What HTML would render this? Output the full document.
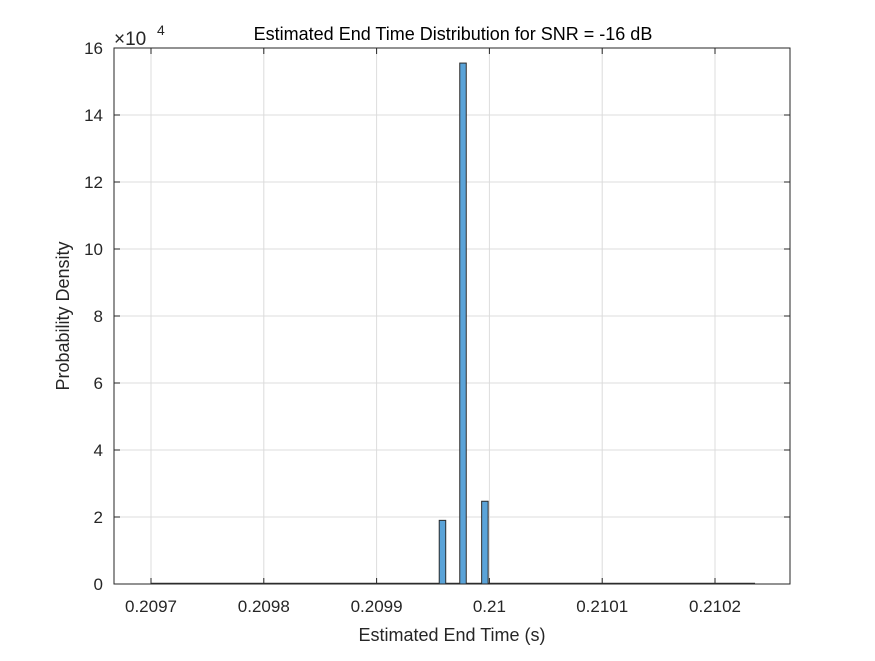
<!DOCTYPE html>
<html><head><meta charset="utf-8"><style>
body{margin:0;background:#fff;}
svg{font-family:"Liberation Sans",sans-serif;}
</style></head><body>
<svg id="c" width="875" height="656">
<rect width="875" height="656" fill="#fff"/>
<g id="g"></g>
</svg>
<script>
const binCenters=[0.2099584,0.2099766,0.2099960];
const densities=[19000,155500,24700];
const binWidth=0.00000576;
const rangeStart=0.2097, rangeEnd=0.2102355;
const xTicks=[0.2097,0.2098,0.2099,0.21,0.2101,0.2102];
const xTickLabels=["0.2097","0.2098","0.2099","0.21","0.2101","0.2102"];
const yTicks=[0,2,4,6,8,10,12,14,16];
const L=114,R=790,T=48,B=584;
const x=v=>151+(v-0.2097)/0.0001*112.8;
const y=v=>B-(v/160000)*(B-T);
const g=document.getElementById('g');
const NS='http://www.w3.org/2000/svg';
function mk(t,a,txt){const e=document.createElementNS(NS,t);for(const k in a)e.setAttribute(k,a[k]);if(txt!==undefined)e.textContent=txt;g.appendChild(e);return e;}
let e=mk('rect',{x:L,y:T,width:R-L,height:B-T,fill:'#fff'});


xTicks.forEach((t,i)=>{
 let l=mk('line',{x1:x(t),x2:x(t),y1:T,y2:B,stroke:'#dcdcdc','stroke-width':1});
 
 
 mk('line',{x1:x(t),x2:x(t),y1:B,y2:B-6,stroke:'#262626'});
 mk('line',{x1:x(t),x2:x(t),y1:T,y2:T+6,stroke:'#262626'});
 let tx=mk('text',{x:x(t),y:B+28,'text-anchor':'middle','font-size':17,fill:'#262626'},xTickLabels[i]);
 
 
});
yTicks.forEach(t=>{
 const yy=y(t*10000);
 let l=mk('line',{x1:L,x2:R,y1:yy,y2:yy,stroke:'#dcdcdc','stroke-width':1});
 
 
 mk('line',{x1:L,x2:L+6,y1:yy,y2:yy,stroke:'#262626'});
 mk('line',{x1:R,x2:R-6,y1:yy,y2:yy,stroke:'#262626'});
 let tx=mk('text',{x:L-11,y:yy+6,'text-anchor':'end','font-size':17,fill:'#262626'},String(t));
 
 
});
let bl=mk('line',{x1:x(rangeStart),x2:x(rangeEnd),y1:B-0.5,y2:B-0.5,stroke:'#333','stroke-width':1.5});


binCenters.forEach((c,i)=>{
 const x0=x(c-binWidth/2),x1=x(c+binWidth/2);
 let r=mk('rect',{x:x0,y:y(densities[i]),width:x1-x0,height:B-y(densities[i]),fill:'#5aa3d8',stroke:'#2b2b2b','stroke-width':1});
 
 
});
let ax=mk('rect',{x:L,y:T,width:R-L,height:B-T,fill:'none',stroke:'#262626','stroke-width':1});


let ex=mk('text',{x:114,y:45,'font-size':19,fill:'#262626'},'×10');


mk('text',{x:157,y:35,'font-size':14,fill:'#262626'},'4');
let ti=mk('text',{x:453,y:40,'text-anchor':'middle','font-size':18,fill:'#000'},'Estimated End Time Distribution for SNR = -16 dB');


let xl=mk('text',{x:452,y:641,'text-anchor':'middle','font-size':18,fill:'#262626'},'Estimated End Time (s)');


let yl=mk('text',{x:0,y:0,'text-anchor':'middle','font-size':18,fill:'#262626',transform:'translate(69,316) rotate(-90)'},'Probability Density');


</script>
</body></html>
